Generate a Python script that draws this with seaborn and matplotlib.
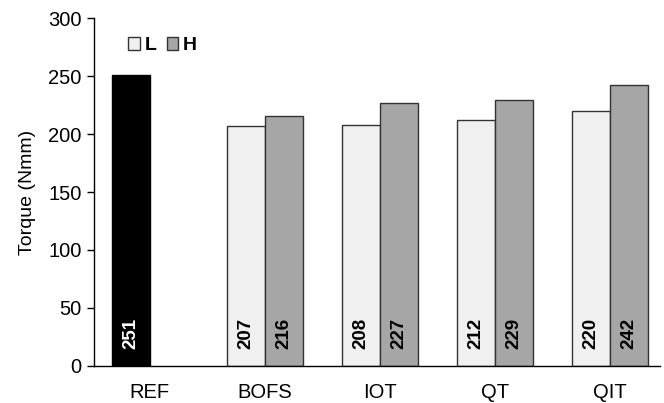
import pandas as pd
import matplotlib
matplotlib.use("Agg")
import matplotlib.pyplot as plt
from matplotlib.patches import Patch
import seaborn as sns

# values
categories = ["REF", "BOFS", "IOT", "QT", "QIT"]
low_vals = [251, 207, 208, 212, 220]
high_vals = [None, 216, 227, 229, 242]
levels = ["L", "H"]

rows = []
for c, lo, hi in zip(categories, low_vals, high_vals):
    rows.append({"cat": c, "level": "L", "torque": lo})
    rows.append({"cat": c, "level": "H", "torque": hi})
df = pd.DataFrame(rows)

sns.set_style("white")
plt.rcParams['font.family'] = ['Liberation Sans', 'DejaVu Sans']
plt.rcParams['text.color'] = 'black'
plt.rcParams['axes.labelcolor'] = 'black'
plt.rcParams['xtick.color'] = 'black'
plt.rcParams['ytick.color'] = 'black'

fig = plt.figure(figsize=(6.64, 4.03), dpi=100)
ax = fig.add_axes([0.1416, 0.092, 0.852, 0.863])

pal = {"L": "#f0f0f0", "H": "#a6a6a6"}
sns.barplot(data=df, x="cat", y="torque", hue="level", hue_order=levels,
            order=categories, palette=pal, width=0.66, edgecolor="#333333",
            linewidth=1.0, saturation=1, errorbar=None, ax=ax, legend=False)

# REF bar is drawn in black
for p in ax.patches:
    if p.get_height() > 0 and abs(p.get_x() + p.get_width() / 2 - (0 - 0.165)) < 0.01:
        p.set_facecolor("black")
        p.set_edgecolor("black")

# value labels
for p in ax.patches:
    h = p.get_height()
    if h is None or not h == h or h <= 0:
        continue
    xc = p.get_x() + p.get_width() / 2
    col = "white" if p.get_facecolor()[0] < 0.2 else "black"
    ax.text(xc, 15, f"{int(round(h))}", rotation=90, ha="center", va="bottom",
            fontsize=13.5, fontweight="bold", color=col)

ax.set_ylim(0, 300)
ax.set_xlim(-0.483, 4.43)
ax.set_yticks(range(0, 301, 50))
ax.set_xlabel("")
ax.set_ylabel("Torque (Nmm)", fontsize=14, labelpad=9)
ax.tick_params(axis="y", left=True, direction="out", length=5, width=1,
               labelsize=14.5, color="black", pad=4)
ax.tick_params(axis="x", bottom=False, labelsize=14.5, pad=9)
sns.despine(ax=ax)
for s in ["left", "bottom"]:
    ax.spines[s].set_color("black")
    ax.spines[s].set_linewidth(1.0)

handles = [Patch(facecolor=pal[l], edgecolor="#333333", label=l) for l in levels]
leg = ax.legend(handles=handles, ncol=2, frameon=False, loc="upper left",
                bbox_to_anchor=(0.03, 0.995), handlelength=0.6, handleheight=0.6,
                handletextpad=0.25, columnspacing=0.5,
                prop={"weight": "bold", "size": 14})

fig.savefig("out.png", dpi=100)
